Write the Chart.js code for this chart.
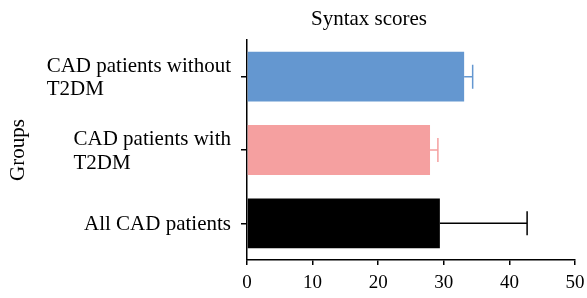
<!DOCTYPE html>
<html lang="en">

<head>
    <meta charset="UTF-8">
    <title>Syntax scores</title>
    <script src="https://cdn.jsdelivr.net/npm/chart.js"></script>
    <style>
        html, body {
            margin: 0;
            padding: 0;
            background: #ffffff;
        }

        .wrap {
            width: 587px;
            height: 298px;
        }
    </style>
</head>

<body>
    <div class="wrap">
        <canvas id="syntaxChart" width="587" height="298"></canvas>
    </div>

    <script>
        // data
        const groups = [['CAD patients without', 'T2DM'], ['CAD patients with', 'T2DM'], ['All CAD patients']];
        const meanScores = [33.1, 27.9, 29.4];
        const errorValues = [1.3, 1.2, 13.3];
        const barColors = ['#6497d0', '#f5a0a0', '#000000'];
        const xTicks = [0, 10, 20, 30, 40, 50];

        const serif = '"Liberation Serif", "DejaVu Serif", serif';

        // error bars + left-aligned multi-line group labels + title
        const extrasPlugin = {
            id: 'extras',
            afterDatasetsDraw(chart) {
                const ctx = chart.ctx;
                const xs = chart.scales.x;
                const ys = chart.scales.y;
                ctx.save();
                meanScores.forEach((v, i) => {
                    const y = ys.getPixelForValue(i);
                    const x0 = xs.getPixelForValue(v);
                    const x1 = xs.getPixelForValue(v + errorValues[i]);
                    ctx.strokeStyle = barColors[i];
                    ctx.lineWidth = 1.5;
                    ctx.beginPath();
                    ctx.moveTo(x0, y);
                    ctx.lineTo(x1, y);
                    ctx.moveTo(x1, y - 12);
                    ctx.lineTo(x1, y + 12);
                    ctx.stroke();
                });

                // group labels
                ctx.font = '21px ' + serif;
                ctx.fillStyle = '#000';
                ctx.textAlign = 'left';
                ctx.textBaseline = 'alphabetic';
                const right = chart.chartArea.left - 16;
                const lineH = 23.5;
                groups.forEach((lines, i) => {
                    const y = ys.getPixelForValue(i);
                    const w = Math.max(...lines.map(l => ctx.measureText(l).width));
                    const base = y + 7 - (lines.length - 1) * lineH / 2;
                    lines.forEach((l, k) => ctx.fillText(l, right - w, base + k * lineH));
                });

                // chart title
                ctx.textAlign = 'center';
                ctx.fillText('Syntax scores', 369, 25);
                ctx.restore();
            }
        };

        function renderChart() {
            const ctx = document.getElementById('syntaxChart').getContext('2d');

            new Chart(ctx, {
                type: 'bar',
                data: {
                    labels: groups,
                    datasets: [{
                        label: 'Syntax scores',
                        data: meanScores,
                        backgroundColor: barColors,
                        borderWidth: 0,
                        barPercentage: 0.68,
                        categoryPercentage: 1
                    }]
                },
                options: {
                    indexAxis: 'y',
                    responsive: false,
                    animation: false,
                    layout: {
                        padding: { top: 40, right: 12, bottom: 0, left: 0 }
                    },
                    plugins: {
                        legend: { display: false },
                        tooltip: { enabled: false }
                    },
                    scales: {
                        x: {
                            min: 0,
                            max: 50,
                            afterBuildTicks: (s) => { s.ticks = xTicks.map(v => ({ value: v })); },
                            afterFit: (s) => { s.height = 38; s.paddingRight = 0; s.paddingLeft = 0; },
                            border: { color: '#000', width: 1.5 },
                            grid: {
                                display: true,
                                drawOnChartArea: false,
                                drawTicks: true,
                                tickLength: 5,
                                color: '#000',
                                lineWidth: 1.5
                            },
                            ticks: {
                                color: '#000',
                                padding: 7,
                                maxRotation: 0,
                                font: { family: serif, size: 19 }
                            }
                        },
                        y: {
                            afterFit: (s) => { s.width = 247; },
                            border: { color: '#000', width: 1.5 },
                            grid: {
                                display: true,
                                offset: false,
                                drawOnChartArea: false,
                                drawTicks: true,
                                tickLength: 6,
                                color: '#000',
                                lineWidth: 1.5
                            },
                            ticks: {
                                color: 'rgba(0,0,0,0)',
                                font: { family: serif, size: 18 }
                            },
                            title: {
                                display: true,
                                text: 'Groups',
                                color: '#000',
                                padding: { top: 6, bottom: 0 },
                                font: { family: serif, size: 21 }
                            }
                        }
                    }
                },
                plugins: [extrasPlugin]
            });
        }

        document.addEventListener('DOMContentLoaded', renderChart);
    </script>
</body>

</html>
